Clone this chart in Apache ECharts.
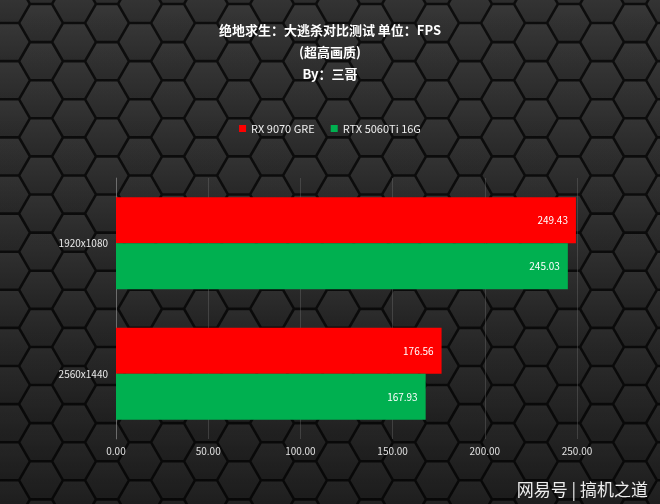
<!DOCTYPE html>
<html>
<head>
<meta charset="utf-8">
<script src="https://cdn.jsdelivr.net/npm/echarts@6/dist/echarts.min.js"></script>
<style>
html,body{margin:0;padding:0;background:#2b2b2b;}
#main{width:660px;height:504px;}
</style>
</head>
<body>
<div id="main"></div>
<script>
const categories = ['1920x1080', '2560x1440'];
const seriesNames = ['RX 9070 GRE', 'RTX 5060Ti 16G'];
const rx9070gre = [249.43, 176.56];
const rtx5060ti = [245.03, 167.93];
const xTicks = [0, 50, 100, 150, 200, 250];

// decorative hexagon background
(function () {
  const c = document.createElement('canvas');
  c.width = 660; c.height = 504;
  const g = c.getContext('2d');
  g.fillStyle = '#0d0d0d';
  g.fillRect(0, 0, 660, 504);
  const R = 22, H = Math.sqrt(3) * R;
  for (let col = -1; col * 1.5 * R < 700; col++) {
    const cx = col * 1.5 * R + 8;
    const off = (col % 2 ? H / 2 : 0);
    for (let row = -1; row * H < 540; row++) {
      const cy = row * H + off + 4;
      g.beginPath();
      for (let k = 0; k < 6; k++) {
        const a = Math.PI / 3 * k;
        const px = cx + (R - 1.5) * Math.cos(a), py = cy + (R - 1.5) * Math.sin(a);
        if (k === 0) g.moveTo(px, py); else g.lineTo(px, py);
      }
      g.closePath();
      const gr = g.createLinearGradient(cx, cy - H / 2, cx, cy + H / 2);
      gr.addColorStop(0, '#383838');
      gr.addColorStop(1, '#2c2c2c');
      g.fillStyle = gr;
      g.fill();
    }
  }
  const v = g.createLinearGradient(0, 0, 0, 504);
  v.addColorStop(0, 'rgba(0,0,0,0)');
  v.addColorStop(0.5, 'rgba(0,0,0,0.15)');
  v.addColorStop(1, 'rgba(0,0,0,0.38)');
  g.fillStyle = v;
  g.fillRect(0, 0, 660, 504);
  document.getElementById('main').style.background = 'url(' + c.toDataURL() + ')';
})();

const chart = echarts.init(document.getElementById('main'), null, {renderer: 'canvas'});
const font = '"Noto Sans CJK SC", "Noto Sans", sans-serif';
chart.setOption({
  backgroundColor: 'transparent',
  animation: false,
  textStyle: {fontFamily: font},
  title: {
    text: '绝地求生：大逃杀对比测试 单位：FPS\n(超高画质)\nBy：三哥',
    left: 'center',
    top: 14,
    textStyle: {color: '#ffffff', fontSize: 13, fontWeight: 'bold', lineHeight: 22, fontFamily: font}
  },
  legend: {
    top: 118,
    left: 'center',
    icon: 'rect',
    itemWidth: 7,
    itemHeight: 7,
    itemGap: 16,
    textStyle: {color: '#eeeeee', fontSize: 11, fontFamily: font},
    data: seriesNames
  },
  grid: {left: 116, right: 83, top: 178, bottom: 65, containLabel: false},
  xAxis: {
    type: 'value',
    min: xTicks[0],
    max: xTicks[xTicks.length - 1],
    interval: 50,
    axisLine: {show: false},
    axisTick: {show: false},
    splitLine: {show: true, lineStyle: {color: 'rgba(120,120,120,0.35)', width: 1}},
    axisLabel: {color: '#e0e0e0', fontSize: 10, margin: 7, formatter: v => v.toFixed(2)}
  },
  yAxis: {
    type: 'category',
    inverse: true,
    data: categories,
    axisLine: {show: true, lineStyle: {color: 'rgba(150,150,150,0.5)'}},
    axisTick: {show: false},
    axisLabel: {color: '#e8e8e8', fontSize: 10, margin: 8}
  },
  series: [
    {
      name: seriesNames[0], type: 'bar', data: rx9070gre,
      barWidth: 46, barGap: '0%',
      itemStyle: {color: '#ff0000'},
      label: {show: true, position: 'insideRight', color: '#ffffff', fontSize: 10, distance: 8, formatter: p => p.value.toFixed(2)}
    },
    {
      name: seriesNames[1], type: 'bar', data: rtx5060ti,
      barWidth: 46, barGap: '0%',
      itemStyle: {color: '#00b050'},
      label: {show: true, position: 'insideRight', color: '#ffffff', fontSize: 10, distance: 8, formatter: p => p.value.toFixed(2)}
    }
  ],
  graphic: [{
    type: 'text',
    right: 12,
    bottom: 6,
    style: {text: '网易号 | 搞机之道', fill: 'rgba(255,255,255,0.92)', fontSize: 17, fontFamily: font}
  }]
});
</script>
</body>
</html>
